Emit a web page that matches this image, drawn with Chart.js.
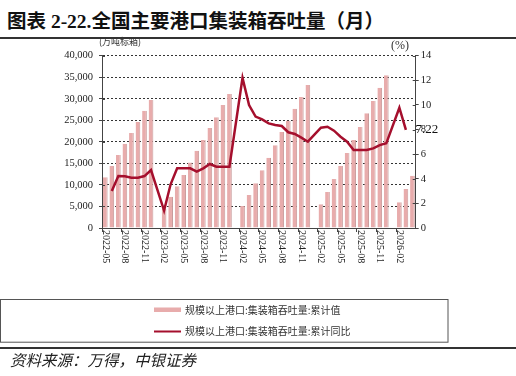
<!DOCTYPE html>
<html><head><meta charset="utf-8">
<script src="https://cdn.jsdelivr.net/npm/chart.js@4/dist/chart.umd.min.js"></script>
<style>
html,body{margin:0;padding:0;background:#fff;}
#wrap{position:relative;width:516px;height:376px;overflow:hidden;}
canvas{position:absolute;left:0;top:0;}
.title{position:absolute;left:7px;top:5px;font:bold 19.5px "Liberation Serif","Noto Sans CJK SC";color:#111;white-space:nowrap;}
.rule{position:absolute;left:0;width:516px;background:#333;}
.src{position:absolute;left:10px;top:348px;font:italic 15.5px "Noto Sans CJK SC";color:#222;white-space:nowrap;}
</style></head>
<body><div id="wrap">
<div class="title">图表 2-22.全国主要港口集装箱吞吐量（月）</div>
<div class="rule" style="top:37px;height:1.5px"></div>
<canvas id="c" width="516" height="376"></canvas>
<div class="rule" style="top:347px;height:1.5px"></div>
<div class="src">资料来源：万得，中银证券</div>
</div>
<script>
const months = [
 "2022-05","2022-06","2022-07","2022-08","2022-09","2022-10","2022-11","2022-12",
 "2023-01","2023-02","2023-03","2023-04","2023-05","2023-06","2023-07","2023-08","2023-09","2023-10","2023-11","2023-12",
 "2024-01","2024-02","2024-03","2024-04","2024-05","2024-06","2024-07","2024-08","2024-09","2024-10","2024-11","2024-12",
 "2025-01","2025-02","2025-03","2025-04","2025-05","2025-06","2025-07","2025-08","2025-09","2025-10","2025-11","2025-12",
 "2026-01","2026-02","2026-03","2026-04"];
const cumulativeValue = [
 11770,14400,16950,19580,22060,24600,27240,29720,
 null,4400,7250,9720,12280,15180,17950,20430,23220,25700,28560,31110,
 null,5110,7660,10370,13390,16330,19200,22290,24920,27710,30420,33200,
 null,5500,8360,11380,14400,17420,20430,23450,26630,29490,32540,35480,
 null,5960,9050,12150];
const cumulativeYoY = [
 null,3.0,4.22,4.2,4.09,4.09,4.22,4.71,
 null,1.42,3.55,4.85,4.85,4.85,4.58,4.85,5.2,4.98,4.98,4.98,
 null,12.2,9.99,9.05,8.83,8.5,8.37,8.29,7.78,7.64,7.34,7.01,
 null,8.15,8.23,7.91,7.42,7.01,6.34,6.34,6.34,6.47,6.74,6.88,
 null,9.77,7.98,null];
const seriesNames = ["规模以上港口:集装箱吞吐量:累计值","规模以上港口:集装箱吞吐量:累计同比"];
const leftUnit = "(万吨标箱)";
const rightUnit = "(%)";
const annotationText = "7.22";

const SERIF = '"Liberation Serif","Times New Roman",serif';
const BAR = '#E8ACAC', LINE = '#A50F2D', AXIS = '#444';

const extras = {
  id:'extras',
  afterDraw(chart){
    const ctx = chart.ctx, x = chart.scales.x, y = chart.scales.y, y1 = chart.scales.y1;
    const ca = chart.chartArea;
    ctx.save();
    ctx.strokeStyle = AXIS; ctx.lineWidth = 1;
    y.ticks.forEach((t,i)=>{const p=Math.round(y.getPixelForTick(i))+0.5;ctx.beginPath();ctx.moveTo(ca.left,p);ctx.lineTo(ca.left+3,p);ctx.stroke();});
    y1.ticks.forEach((t,i)=>{const p=Math.round(y1.getPixelForTick(i))+0.5;ctx.beginPath();ctx.moveTo(ca.right,p);ctx.lineTo(ca.right-3,p);ctx.stroke();});
    ctx.fillStyle = '#222'; ctx.font = '10px '+SERIF;
    ctx.textAlign='left'; ctx.textBaseline='middle';
    months.forEach((m,i)=>{
      if(i%3!==0) return;
      const px = x.getPixelForValue(i);
      ctx.save(); ctx.translate(px, ca.bottom+2); ctx.rotate(Math.PI/2); ctx.fillText(m,0,0); ctx.restore();
    });
    ctx.font = '9px "Noto Sans CJK SC"'; ctx.fillStyle='#333'; ctx.textAlign='left';
    ctx.fillText(leftUnit, 99, 42);
    ctx.font = '12px '+SERIF; ctx.textAlign='center';
    ctx.fillText(rightUnit, 400, 46);
    ctx.font = '13px '+SERIF; ctx.textAlign='left'; ctx.fillStyle='#111';
    ctx.fillText(annotationText, 415.5, 130);
    const bx=0, by=299, bw=447.5, bh=42.7;
    ctx.strokeStyle='#555'; ctx.lineWidth=1;
    ctx.strokeRect(bx+0.5, by+0.5, bw, bh);
    ctx.fillStyle = BAR; ctx.fillRect(154, 307.5, 27, 4.5);
    ctx.strokeStyle = LINE; ctx.lineWidth=2; ctx.beginPath(); ctx.moveTo(154,331.5); ctx.lineTo(181,331.5); ctx.stroke();
    ctx.fillStyle='#333'; ctx.font='10px "Noto Sans CJK SC"'; ctx.textAlign='left'; ctx.textBaseline='middle';
    ctx.fillText(seriesNames[0], 185, 310);
    ctx.fillText(seriesNames[1], 185, 331.5);
    ctx.restore();
  }
};

new Chart(document.getElementById('c'), {
  data:{
    labels: months,
    datasets:[
      {type:'line', label:seriesNames[1], data:cumulativeYoY, yAxisID:'y1', borderColor:LINE, borderWidth:2.5,
       pointRadius:0, tension:0, spanGaps:true, order:0},
      {type:'bar', label:seriesNames[0], data:cumulativeValue, yAxisID:'y', backgroundColor:BAR,
       borderColor:'#C79A9A', borderWidth:{right:1,left:0,top:0,bottom:0}, borderSkipped:false,
       categoryPercentage:1, barPercentage:0.72, order:1}
    ]
  },
  options:{
    responsive:false, animation:false, devicePixelRatio:1,
    layout:{padding:{top:55.7,left:0,right:0,bottom:0}},
    plugins:{legend:{display:false}, tooltip:{enabled:false}},
    scales:{
      x:{type:'category', offset:true,
         grid:{offset:true, drawOnChartArea:false, drawTicks:true, tickLength:4,
               color:(c)=> (c.index%3===0 ? AXIS : 'rgba(0,0,0,0)')},
         border:{display:true, color:AXIS, width:1},
         ticks:{display:false},
         afterFit:(s)=>{s.height = 376-228;}},
      y:{position:'left', min:0, max:40000,
         ticks:{stepSize:5000, color:'#222', font:{family:SERIF,size:10.5}, padding:6,
                callback:(v)=>v.toLocaleString('en-US')},
         grid:{color:'#333', lineWidth:1, tickLength:3, tickColor:AXIS, tickBorderDash:[]},
         border:{display:true, color:AXIS, width:1, dash:[2,2]},
         afterFit:(s)=>{s.width = 102;}},
      y1:{position:'right', min:0, max:14,
         ticks:{stepSize:2, color:'#222', font:{family:SERIF,size:10.5}, padding:2},
         grid:{drawOnChartArea:false, tickLength:3, tickColor:AXIS},
         border:{display:true, color:AXIS, width:1},
         afterFit:(s)=>{s.width = 516-415.7;}}
    }
  },
  plugins:[extras]
});
</script>
</body></html>
